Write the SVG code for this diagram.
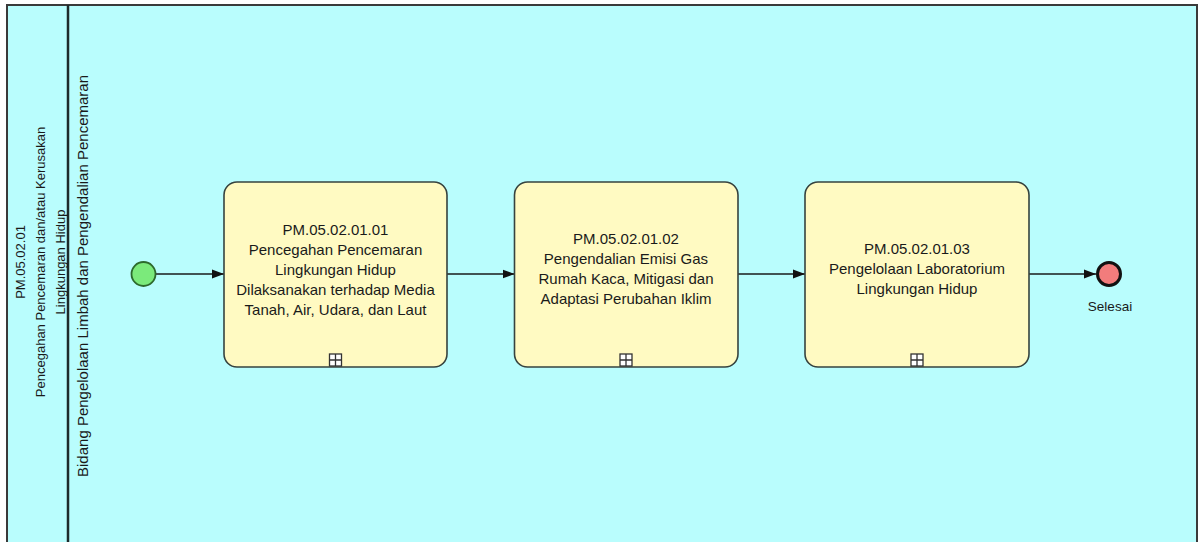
<svg xmlns="http://www.w3.org/2000/svg" width="1202" height="542" viewBox="0 0 1202 542">
<defs>
<style>
.lbl{font-family:"Liberation Sans",Arial,sans-serif;fill:#1a1a1a;text-anchor:middle;dominant-baseline:central}
.task{fill:#FFFAC2;stroke:#36433f;stroke-width:1.6}
.conn{stroke:#1a1a1a;stroke-width:1.4;fill:none}
.mk{fill:#ffffff;stroke:#333;stroke-width:1.3}
</style>
<marker id="arr" viewBox="0 0 12 10" refX="12" refY="5" markerWidth="12" markerHeight="10" markerUnits="userSpaceOnUse" orient="auto">
<path d="M0,0.5 L12,5 L0,9.5 Z" fill="#111"/>
</marker>
</defs>
<g id="pool">
<rect x="7" y="5" width="1190" height="545" fill="#B9FDFD" stroke="#3a3a3a" stroke-width="2"/>
<line x1="68" y1="5" x2="68" y2="542" stroke="#1d2a2a" stroke-width="2.5"/>
<text class="lbl" font-size="13" transform="translate(20,262) rotate(-90)">PM.05.02.01</text>
<text class="lbl" font-size="13" transform="translate(40,262) rotate(-90)">Pencegahan Pencemaran dan/atau Kerusakan</text>
<text class="lbl" font-size="13" transform="translate(60,262) rotate(-90)">Lingkungan Hidup</text>
</g>
<g id="lane">
<text class="lbl" font-size="15" transform="translate(82,276) rotate(-90)">Bidang Pengelolaan Limbah dan Pengendalian Pencemaran</text>
</g>
<g id="connectors">
<line class="conn" x1="156" y1="274" x2="224" y2="274" marker-end="url(#arr)"/>
<line class="conn" x1="447" y1="274" x2="514.5" y2="274" marker-end="url(#arr)"/>
<line class="conn" x1="738" y1="274" x2="805" y2="274" marker-end="url(#arr)"/>
<line class="conn" x1="1029" y1="274" x2="1096" y2="274" marker-end="url(#arr)"/>
</g>
<g id="start">
<circle cx="143.5" cy="274" r="12" fill="#7BEA7B" stroke="#2d6a2d" stroke-width="1.8"/>
</g>
<g id="task1">
<rect class="task" x="224" y="182" width="223" height="185" rx="13"/>
<text class="lbl" font-size="15" x="335.5" y="229">PM.05.02.01.01</text>
<text class="lbl" font-size="15" x="335.5" y="249">Pencegahan Pencemaran</text>
<text class="lbl" font-size="15" x="335.5" y="269">Lingkungan Hidup</text>
<text class="lbl" font-size="15" x="335.5" y="289">Dilaksanakan terhadap Media</text>
<text class="lbl" font-size="15" x="335.5" y="309">Tanah, Air, Udara, dan Laut</text>
<rect class="mk" x="329.5" y="354" width="12" height="12"/>
<path d="M335.5,354 V366 M329.5,360 H341.5" stroke="#333" stroke-width="1.3"/>
</g>
<g id="task2">
<rect class="task" x="514.5" y="182" width="223.5" height="185" rx="13"/>
<text class="lbl" font-size="15" x="626" y="238">PM.05.02.01.02</text>
<text class="lbl" font-size="15" x="626" y="258">Pengendalian Emisi Gas</text>
<text class="lbl" font-size="15" x="626" y="278">Rumah Kaca, Mitigasi dan</text>
<text class="lbl" font-size="15" x="626" y="298">Adaptasi Perubahan Iklim</text>
<rect class="mk" x="620" y="354" width="12" height="12"/>
<path d="M626,354 V366 M620,360 H632" stroke="#333" stroke-width="1.3"/>
</g>
<g id="task3">
<rect class="task" x="805" y="182" width="224" height="185" rx="13"/>
<text class="lbl" font-size="15" x="917" y="248">PM.05.02.01.03</text>
<text class="lbl" font-size="15" x="917" y="268">Pengelolaan Laboratorium</text>
<text class="lbl" font-size="15" x="917" y="288">Lingkungan Hidup</text>
<rect class="mk" x="911" y="354" width="12" height="12"/>
<path d="M917,354 V366 M911,360 H923" stroke="#333" stroke-width="1.3"/>
</g>
<g id="end">
<circle cx="1109" cy="274" r="11.5" fill="#F27C7C" stroke="#111" stroke-width="3"/>
<text class="lbl" font-size="13.5" x="1110" y="306">Selesai</text>
</g>
</svg>
